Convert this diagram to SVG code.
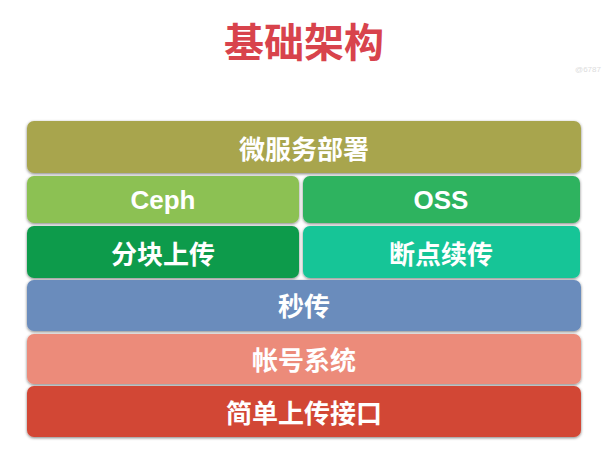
<svg xmlns="http://www.w3.org/2000/svg" width="605" height="457" viewBox="0 0 605 457">
<defs>
<filter id="sh" x="-5%" y="-20%" width="110%" height="140%">
<feGaussianBlur in="SourceAlpha" stdDeviation="1.8"/>
<feOffset dx="0" dy="1" result="b"/>
<feFlood flood-color="#000" flood-opacity="0.5"/>
<feComposite in2="b" operator="in"/>
<feMerge><feMergeNode/><feMergeNode in="SourceGraphic"/></feMerge>
</filter>
</defs>
<style>
.box{filter:url(#sh);}
.lbl{font-family:"Noto Sans CJK SC","Liberation Sans",sans-serif;font-weight:bold;font-size:26px;fill:#fff;text-anchor:middle;dominant-baseline:central;}
.en{font-family:"Liberation Sans","Noto Sans CJK SC",sans-serif;font-size:26px;}
</style>
<rect width="605" height="457" fill="#ffffff"/>
<text x="304" y="40" font-family="Noto Sans CJK SC, sans-serif" font-weight="bold" font-size="40" fill="#d8434c" text-anchor="middle" dominant-baseline="central">基础架构</text>
<text x="588" y="72" font-family="Liberation Sans, sans-serif" font-size="8" fill="#dddddd" text-anchor="middle">@6787</text>
<g id="n1"><rect class="box" x="27" y="121" width="554" height="52" rx="7" fill="#a8a54e"/><text class="lbl" x="304" y="147">微服务部署</text></g>
<g id="n2"><rect class="box" x="27" y="176" width="272" height="47" rx="7" fill="#8cc152"/><text class="lbl en" x="163" y="200">Ceph</text></g>
<g id="n3"><rect class="box" x="303" y="176" width="277" height="47" rx="7" fill="#2db35f"/><text class="lbl en" x="441" y="200">OSS</text></g>
<g id="n4"><rect class="box" x="27" y="226" width="272" height="52" rx="7" fill="#0e9b4b"/><text class="lbl" x="163" y="252">分块上传</text></g>
<g id="n5"><rect class="box" x="303" y="226" width="277" height="52" rx="7" fill="#14c597"/><text class="lbl" x="441" y="252">断点续传</text></g>
<g id="n6"><rect class="box" x="27" y="280" width="554" height="51" rx="7" fill="#6a8cbc"/><text class="lbl" x="304" y="304">秒传</text></g>
<g id="n7"><rect class="box" x="27" y="334" width="554" height="50" rx="7" fill="#ec8b7a"/><text class="lbl" x="304" y="358">帐号系统</text></g>
<g id="n8"><rect class="box" x="27" y="386" width="554" height="51" rx="7" fill="#d24634"/><text class="lbl" x="304" y="411">简单上传接口</text></g>
<g id="connectors"></g>
</svg>
